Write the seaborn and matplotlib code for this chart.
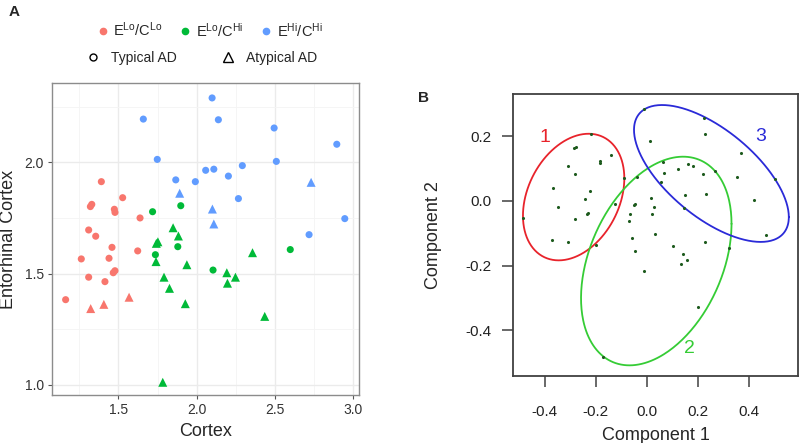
# two-panel figure: regional scatter (A) and cluster plot on principal components (B)

import numpy as np
import pandas as pd
import matplotlib
matplotlib.use("Agg")
import matplotlib.pyplot as plt
import seaborn as sns
from matplotlib.lines import Line2D

# ------------------------------------------------------------
# PANEL A DATA — cortex vs entorhinal cortex, per subgroup
# ------------------------------------------------------------

# E-Lo / C-Lo (red)
lolo_typ_cortex = [1.391, 1.527, 1.330, 1.321, 1.474, 1.478, 1.638, 1.310, 1.355,
                   1.459, 1.623, 1.263, 1.440, 1.478, 1.467, 1.310, 1.414, 1.163]
lolo_typ_ento = [1.913, 1.841, 1.811, 1.801, 1.789, 1.775, 1.750, 1.696, 1.668,
                 1.618, 1.602, 1.566, 1.569, 1.513, 1.504, 1.484, 1.464, 1.383]
lolo_atyp_cortex = [1.323, 1.407, 1.568]
lolo_atyp_ento = [1.343, 1.362, 1.394]

# E-Lo / C-Hi (green)
lohi_typ_cortex = [1.718, 1.898, 1.879, 1.736, 2.104, 2.597]
lohi_typ_ento = [1.778, 1.805, 1.621, 1.585, 1.516, 1.608]
lohi_atyp_cortex = [1.849, 1.883, 1.752, 1.742, 1.740, 1.937, 1.791, 2.192,
                    2.247, 2.196, 1.826, 1.927, 2.434, 2.356, 1.783]
lohi_atyp_ento = [1.706, 1.669, 1.643, 1.636, 1.554, 1.540, 1.484, 1.504,
                  1.484, 1.457, 1.434, 1.365, 1.308, 1.594, 1.012]

# E-Hi / C-Hi (blue)
hihi_typ_cortex = [2.098, 1.659, 2.138, 2.494, 2.894, 1.748, 2.508, 2.291,
                   2.057, 2.109, 2.202, 1.866, 1.991, 2.266, 2.945, 2.717]
hihi_typ_ento = [2.289, 2.194, 2.191, 2.154, 2.081, 2.013, 2.004, 1.985,
                 1.964, 1.969, 1.938, 1.921, 1.913, 1.837, 1.747, 1.675]
hihi_atyp_cortex = [1.891, 2.100, 2.109, 2.730]
hihi_atyp_ento = [1.861, 1.790, 1.723, 1.910]

group_labels = [r"$\mathregular{E^{Lo}/C^{Lo}}$",
                r"$\mathregular{E^{Lo}/C^{Hi}}$",
                r"$\mathregular{E^{Hi}/C^{Hi}}$"]
group_colors = ["#F8766D", "#00BA38", "#619CFF"]
pheno_labels = ["Typical AD", "Atypical AD"]

# ------------------------------------------------------------
# PANEL B DATA — cluster plot, first two components
# ------------------------------------------------------------

comp1 = [-0.220, -0.284, -0.279, -0.141, -0.185, -0.185, -0.309, -0.283, -0.088,
         -0.039, -0.368, -0.223, -0.244, -0.125, 0.018, -0.049, -0.045, 0.028,
         -0.349, -0.234, -0.229, -0.066, 0.019, -0.485, -0.282, -0.068, 0.013,
         -0.011, 0.225, 0.230, 0.370, 0.062, 0.161, 0.183, 0.122, 0.066, 0.268,
         0.220, 0.355, 0.504, 0.057, 0.152, 0.232, 0.420, 0.145, 0.467, -0.371,
         -0.309, -0.199, -0.056, 0.031, -0.046, -0.011, -0.172, 0.105, 0.228,
         0.143, 0.160, 0.133, 0.324, 0.200]
comp2 = [0.207, 0.163, 0.166, 0.141, 0.125, 0.117, 0.108, 0.082, 0.072,
         0.073, 0.041, 0.032, 0.005, -0.010, 0.009, -0.012, -0.008, -0.019,
         -0.020, -0.040, -0.037, -0.041, -0.041, -0.052, -0.056, -0.063, 0.187,
         0.286, 0.257, 0.208, 0.148, 0.122, 0.115, 0.109, 0.099, 0.088, 0.093,
         0.082, 0.075, 0.068, 0.060, 0.018, 0.021, 0.003, -0.021, -0.104, -0.122,
         -0.127, -0.135, -0.116, -0.102, -0.154, -0.217, -0.483, -0.140, -0.128,
         -0.163, -0.184, -0.194, -0.145, -0.328]

# spanning ellipse per cluster: centre and shape matrix [[vx, cxy], [cxy, vy]]
clus_center_x = [-0.287, 0.0375, 0.254]
clus_center_y = [0.012, -0.186, 0.085]
clus_var_x = [0.0396, 0.0873, 0.0924]
clus_var_y = [0.0384, 0.1043, 0.0449]
clus_cov_xy = [0.0115, 0.034, -0.041]
clus_names = ["1", "2", "3"]
clus_label_x = [-0.400, 0.167, 0.448]
clus_label_y = [0.197, -0.456, 0.199]
clus_colors = ["#E8232B", "#35CC35", "#2A2AD8"]

# ------------------------------------------------------------
# STYLE
# ------------------------------------------------------------

sns.set_style("white")
plt.rcParams["font.family"] = ["Liberation Sans", "DejaVu Sans"]
plt.rcParams["mathtext.fontset"] = "custom"
plt.rcParams["mathtext.rm"] = "Liberation Sans"
plt.rcParams["mathtext.it"] = "Liberation Sans:italic"

fig = plt.figure(figsize=(8, 4.43), dpi=100)
axA = fig.add_axes([0.065, 0.1084, 0.3838, 0.7032])
axB = fig.add_axes([0.6416, 0.1512, 0.3559, 0.6366])

# ── Panel A ──────────────────────────────────────────────
blocks = [
    (lolo_typ_cortex, lolo_typ_ento, 0, 0), (lolo_atyp_cortex, lolo_atyp_ento, 0, 1),
    (lohi_typ_cortex, lohi_typ_ento, 1, 0), (lohi_atyp_cortex, lohi_atyp_ento, 1, 1),
    (hihi_typ_cortex, hihi_typ_ento, 2, 0), (hihi_atyp_cortex, hihi_atyp_ento, 2, 1),
]
dfA = pd.concat([
    pd.DataFrame({"Cortex": xs, "Entorhinal": ys,
                  "group": group_labels[g], "pheno": pheno_labels[p]})
    for xs, ys, g, p in blocks
], ignore_index=True)

# triangles drawn a bit larger so they read the same size as the dots
for pheno, marker, size in [("Typical AD", "o", 26), ("Atypical AD", "^", 42)]:
    sns.scatterplot(data=dfA[dfA["pheno"] == pheno], x="Cortex", y="Entorhinal",
                    hue="group", hue_order=group_labels, palette=group_colors,
                    marker=marker, s=size, linewidth=0, legend=False, ax=axA, zorder=3)

axA.set_xlim(1.076, 3.036)
axA.set_ylim(0.955, 2.354)
axA.set_xticks([1.5, 2.0, 2.5, 3.0])
axA.set_yticks([1.0, 1.5, 2.0])
axA.set_xticks(np.arange(1.25, 3.01, 0.5), minor=True)
axA.set_yticks(np.arange(1.25, 2.36, 0.5), minor=True)
axA.grid(which="major", color="#ebebeb", linewidth=1.0)
axA.grid(which="minor", color="#f4f4f4", linewidth=0.6)
axA.set_axisbelow(True)
for sp in axA.spines.values():
    sp.set_color("#8c8c8c")
    sp.set_linewidth(1.0)
axA.tick_params(which="major", direction="out", length=3, width=0.8, color="#555555",
                labelsize=10, labelcolor="#333333", pad=3, bottom=True, left=True)
axA.tick_params(which="minor", length=0)
axA.set_xlabel("Cortex", fontsize=13)
axA.set_ylabel("Entorhinal Cortex", fontsize=13)
axA.xaxis.set_label_coords(0.5, -0.091)
axA.yaxis.set_label_coords(-0.115, 0.5)

# legends above panel A
hue_handles = [Line2D([], [], marker="o", ls="", color=c, markersize=4.5, label=g)
               for g, c in zip(group_labels, group_colors)]
shape_handles = [Line2D([], [], marker=m, ls="", markerfacecolor="none",
                        markeredgecolor="black", markeredgewidth=1.0, markersize=ms, label=p)
                 for p, m, ms in zip(pheno_labels, ["o", "^"], [5, 6.5])]
fig.legend(handles=hue_handles, loc="center", bbox_to_anchor=(0.261, 0.932), ncol=3,
           frameon=False, fontsize=10.5, handletextpad=0.2, columnspacing=1.1,
           handlelength=1.0)
fig.legend(handles=shape_handles, loc="center", bbox_to_anchor=(0.252, 0.869), ncol=2,
           frameon=False, fontsize=10, handletextpad=0.8, columnspacing=3.2,
           handlelength=1.0)

# ── Panel B ──────────────────────────────────────────────
sns.scatterplot(x=comp1, y=comp2, color="#1d5a1d", s=5, linewidth=0, ax=axB, zorder=3)

t = np.linspace(0, 2 * np.pi, 300)
for i in range(3):
    shape = np.array([[clus_var_x[i], clus_cov_xy[i]], [clus_cov_xy[i], clus_var_y[i]]])
    L = np.linalg.cholesky(shape)
    pts = L @ np.vstack([np.cos(t), np.sin(t)])
    axB.plot(clus_center_x[i] + pts[0], clus_center_y[i] + pts[1],
             color=clus_colors[i], linewidth=1.3, zorder=2)
    axB.text(clus_label_x[i], clus_label_y[i], clus_names[i], color=clus_colors[i],
             fontsize=14, ha="center", va="center")

axB.set_xlim(-0.524, 0.594)
axB.set_ylim(-0.542, 0.331)
axB.set_xticks([-0.4, -0.2, 0.0, 0.2, 0.4])
axB.set_yticks([-0.4, -0.2, 0.0, 0.2])
axB.set_xticklabels(["-0.4", "-0.2", "0.0", "0.2", "0.4"])
axB.set_yticklabels(["-0.4", "-0.2", "0.0", "0.2"])
for sp in axB.spines.values():
    sp.set_color("#404040")
    sp.set_linewidth(1.3)
axB.tick_params(axis="both", direction="out", length=8, width=1.1, color="#404040",
                labelsize=11, labelcolor="#222222", bottom=True, left=True)
axB.tick_params(axis="x", pad=13)
axB.tick_params(axis="y", pad=7.5)
axB.set_xlabel("Component 1", fontsize=13)
axB.set_ylabel("Component 2", fontsize=13)
axB.xaxis.set_label_coords(0.5, -0.18)
axB.yaxis.set_label_coords(-0.2515, 0.5)

# panel letters
fig.text(0.011, 0.972, "A", fontsize=11, fontweight="bold", ha="left", va="center")
fig.text(0.522, 0.778, "B", fontsize=11, fontweight="bold", ha="left", va="center")

plt.savefig("out.png", dpi=100)
